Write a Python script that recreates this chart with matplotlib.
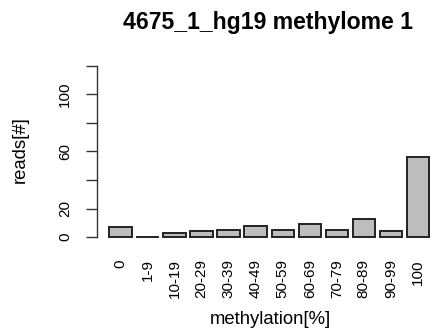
import numpy as np
import matplotlib
matplotlib.use("Agg")
import matplotlib.pyplot as plt
from matplotlib.ticker import FixedLocator, FixedFormatter

# methylation bins and read counts
categorias = ['0', '1-9', '10-19', '20-29', '30-39', '40-49', '50-59',
              '60-69', '70-79', '80-89', '90-99', '100']
lecturas = [7, 0, 3, 4, 5, 8, 5, 9, 5, 13, 4, 56]
y_ticks = [0, 20, 40, 60, 80, 100, 120]
y_labels = ['0', '20', '', '60', '', '100', '']

plt.rcParams['font.family'] = ['Liberation Sans', 'DejaVu Sans']

W, H = 432, 335
fig = plt.figure(figsize=(W / 100, H / 100), dpi=100)
# plot region in pixels (R style barplot, xaxs/yaxs = "r")
x0, x1, ytop, ybot = 96.5, 442.0, 58.9, 244.0
ax = fig.add_axes([x0 / W, 1 - ybot / H, (x1 - x0) / W, (ybot - ytop) / H])

pos = 0.7 + 1.2 * np.arange(len(categorias))
ax.bar(pos, lecturas, width=1.0, color='#bebebe', edgecolor='#222222', linewidth=1.4)

ax.set_xlim(0.2 - 0.04 * 14.2, 14.4 + 0.04 * 14.2)
ax.set_ylim(-4.8, 124.8)

for s in ['top', 'right', 'bottom']:
    ax.spines[s].set_visible(False)
ax.spines['left'].set_bounds(0, 120)
ax.spines['left'].set_color('#333333')
ax.spines['left'].set_linewidth(1.0)

ax.yaxis.set_major_locator(FixedLocator(y_ticks))
ax.yaxis.set_major_formatter(FixedFormatter(y_labels))
ax.tick_params(axis='y', length=7.7, width=1.0, color='#333333', pad=10,
               labelsize=11, labelrotation=90)
for t in ax.get_yticklabels():
    t.set_va('center')

ax.set_xticks(pos)
ax.set_xticklabels(categorias, rotation=90, va='top', ha='center')
ax.tick_params(axis='x', length=0, pad=11, labelsize=11)

fig.text(268 / W, 1 - 22 / H, '4675_1_hg19 methylome 1', ha='center', va='center',
         fontsize=16.6, fontweight='bold')
fig.text(20 / W, 1 - 150 / H, 'reads[#]', ha='center', va='center',
         rotation=90, fontsize=13.3)
fig.text(270 / W, 1 - 320 / H, 'methylation[%]', ha='center', va='center',
         fontsize=13.3)

fig.savefig('out.png', dpi=100)
